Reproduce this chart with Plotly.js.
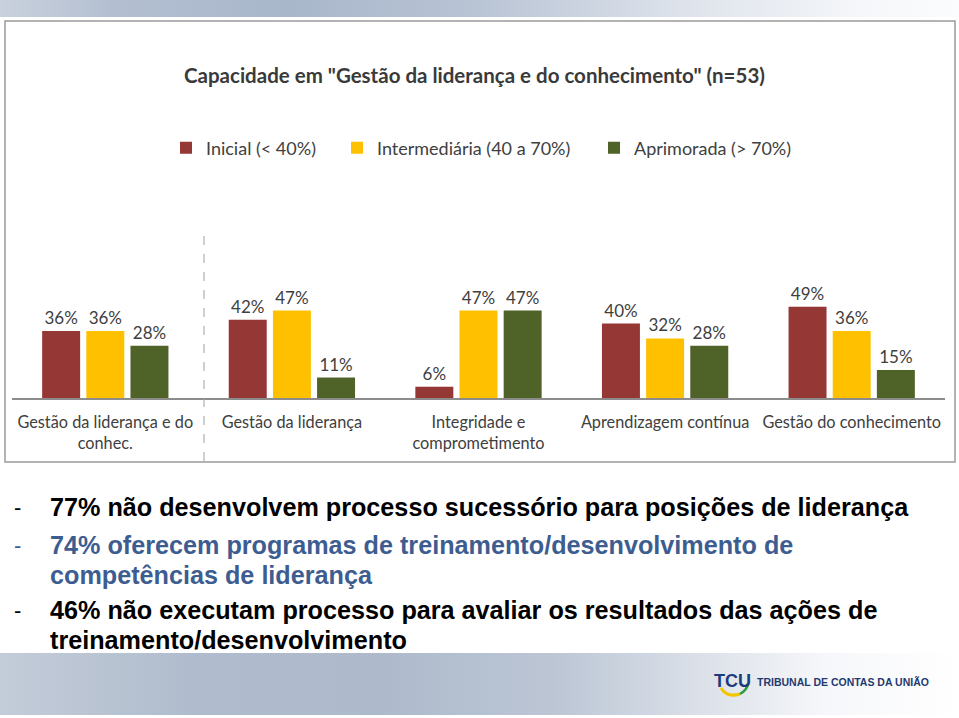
<!DOCTYPE html>
<html>
<head>
<meta charset="utf-8">
<script src="https://cdn.plot.ly/plotly-3.0.1.min.js"></script>
<style>
  html, body { margin: 0; padding: 0; background: #ffffff; }
  #wrap { position: relative; width: 959px; height: 718px; overflow: hidden; }
  #topband { position: absolute; left: 0; top: 0; width: 959px; height: 17px;
    background: linear-gradient(to right, #c9d1dd 0%, #b3bfd1 12%, #a9b7cb 30%, #b9c4d5 50%, #dfe4ec 72%, #f5f7fa 90%, #fbfcfd 100%); }
  #footband { position: absolute; left: 0; top: 653px; width: 959px; height: 62px;
    background: linear-gradient(to right, #c3ccd9 0%, #b0bccd 20%, #aebacc 40%, #bcc6d5 58%, #dde2ea 74%, #f6f7fa 86%, #ffffff 100%); }
  #chart { position: absolute; left: 0; top: 0; width: 959px; height: 718px; }
</style>
</head>
<body>
<div id="wrap">
  <div id="topband"></div>
  <div id="footband"></div>
  <div id="chart"></div>
</div>
<script>
// ---- data ----
const categories = ["Gestão da liderança e do conhec.", "Gestão da liderança", "Integridade e comprometimento", "Aprendizagem contínua", "Gestão do conhecimento"];
const tickLabels = ["Gestão da liderança e do<br>conhec.", "Gestão da liderança", "Integridade e<br>comprometimento", "Aprendizagem contínua", "Gestão do conhecimento"];
const seriesNames = ["Inicial (< 40%)", "Intermediária (40 a 70%)", "Aprimorada (> 70%)"];
const inicial = [36, 42, 6, 40, 49];
const intermediaria = [36, 47, 47, 32, 36];
const aprimorada = [28, 11, 47, 28, 15];
const chartTitle = 'Capacidade em "Gestão da liderança e do conhecimento" (n=53)';
const bulletLines1 = ["77% não desenvolvem processo sucessório para posições de liderança"];
const bulletLines2 = ["74% oferecem programas de treinamento/desenvolvimento de", "competências de liderança"];
const bulletLines3 = ["46% não executam processo para avaliar os resultados das ações de", "treinamento/desenvolvimento"];
const footerText = "TRIBUNAL DE CONTAS DA UNIÃO";

// ---- layout helpers ----
const W = 959, H = 718;
const px = x => x / W;
const py = y => 1 - y / H;
const colors = ["#953735", "#FFC000", "#4F6228"];
const chartFont = "Lato, 'Open Sans', sans-serif";
const txtColor = "#404040";
const legendIds = ["legend", "legend2", "legend3"];
const legendX = [166, 337, 594];

const seriesValues = [inicial, intermediaria, aprimorada];
const traces = seriesValues.map((vals, i) => ({
  type: "bar",
  name: seriesNames[i],
  legend: legendIds[i],
  x: categories,
  y: vals,
  marker: {color: colors[i]},
  text: vals.map(v => v + "%"),
  textposition: "outside",
  textfont: {family: chartFont, size: 17, color: txtColor},
  cliponaxis: false,
  hoverinfo: "x+y+name"
}));

const annotations = [
  {text: "<b>" + chartTitle + "</b>", x: px(474), y: py(75), xref: "paper", yref: "paper",
   xanchor: "center", yanchor: "middle", showarrow: false,
   font: {family: chartFont, size: 20.5, color: "#3a3a3a"}}
];

// bullet texts
const bulletFont = "'Liberation Sans', Arial, sans-serif";
const bullets = [
  {lines: bulletLines1, color: "#000000", ys: [507]},
  {lines: bulletLines2, color: "#3d5d90", ys: [545, 575]},
  {lines: bulletLines3, color: "#000000", ys: [610, 640]}
];
bullets.forEach(b => {
  annotations.push({text: "-", x: px(12), y: py(b.ys[0]), xref: "paper", yref: "paper",
    xanchor: "left", yanchor: "middle", showarrow: false,
    font: {family: bulletFont, size: 22, color: b.color}});
  b.lines.forEach((ln, j) => {
    annotations.push({text: "<b>" + ln + "</b>", x: px(48), y: py(b.ys[j]), xref: "paper", yref: "paper",
      xanchor: "left", yanchor: "middle", showarrow: false,
      font: {family: bulletFont, size: 25.2, color: b.color}});
  });
});

// footer logo text
annotations.push({text: "<b>TCU</b>", x: px(712), y: py(681), xref: "paper", yref: "paper",
  xanchor: "left", yanchor: "middle", showarrow: false,
  font: {family: "'Liberation Sans', Arial, sans-serif", size: 18, color: "#1b3c7c"}});
annotations.push({text: "<b>" + footerText + "</b>", x: px(755), y: py(682), xref: "paper", yref: "paper",
  xanchor: "left", yanchor: "middle", showarrow: false,
  font: {family: "'Liberation Sans', Arial, sans-serif", size: 10.5, color: "#1f3a70"}});

const shapes = [
  // chart frame
  {type: "rect", xref: "paper", yref: "paper", x0: px(5), x1: px(955), y0: py(462), y1: py(21),
   line: {color: "#9a9a9a", width: 1.5}, fillcolor: "rgba(0,0,0,0)", layer: "below"},
  // dashed separator
  {type: "line", xref: "paper", yref: "paper", x0: px(204), x1: px(204), y0: py(461), y1: py(230),
   line: {color: "#a0a0a0", width: 1, dash: "dash"}},
  // logo swooshes
  {type: "path", xref: "paper", yref: "paper",
   path: `M ${px(721)} ${py(688)} Q ${px(727)} ${py(698)} ${px(740)} ${py(694)}`,
   line: {color: "#f2c500", width: 3}},
  {type: "path", xref: "paper", yref: "paper",
   path: `M ${px(740)} ${py(694)} Q ${px(747)} ${py(690)} ${px(748)} ${py(684)}`,
   line: {color: "#2e9a3c", width: 2.5}}
];

const layout = {
  width: W, height: H,
  margin: {l: 0, r: 0, t: 0, b: 0, pad: 0},
  paper_bgcolor: "rgba(0,0,0,0)",
  plot_bgcolor: "rgba(0,0,0,0)",
  barmode: "group",
  bargap: 0.29,
  bargroupgap: 0.14,
  showlegend: true,
  xaxis: {domain: [px(12), px(945)], type: "category", tickvals: categories, ticktext: tickLabels,
    showline: true, linecolor: "#8c8c8c", linewidth: 1.5, ticks: "", showgrid: false, zeroline: false,
    ticklabelstandoff: 9,
    tickfont: {family: chartFont, size: 16.3, color: txtColor}, fixedrange: true},
  yaxis: {domain: [py(398), py(286.3)], range: [0, 60], visible: false, showgrid: false, zeroline: false, fixedrange: true},
  annotations: annotations,
  shapes: shapes
};
legendIds.forEach((id, i) => {
  layout[id] = {orientation: "h", x: px(legendX[i]), y: py(148), xanchor: "left", yanchor: "middle",
    font: {family: chartFont, size: 18, color: txtColor}, itemwidth: 30, bgcolor: "rgba(0,0,0,0)"};
});

Plotly.newPlot("chart", traces, layout, {displayModeBar: false, staticPlot: true});
</script>
</body>
</html>
